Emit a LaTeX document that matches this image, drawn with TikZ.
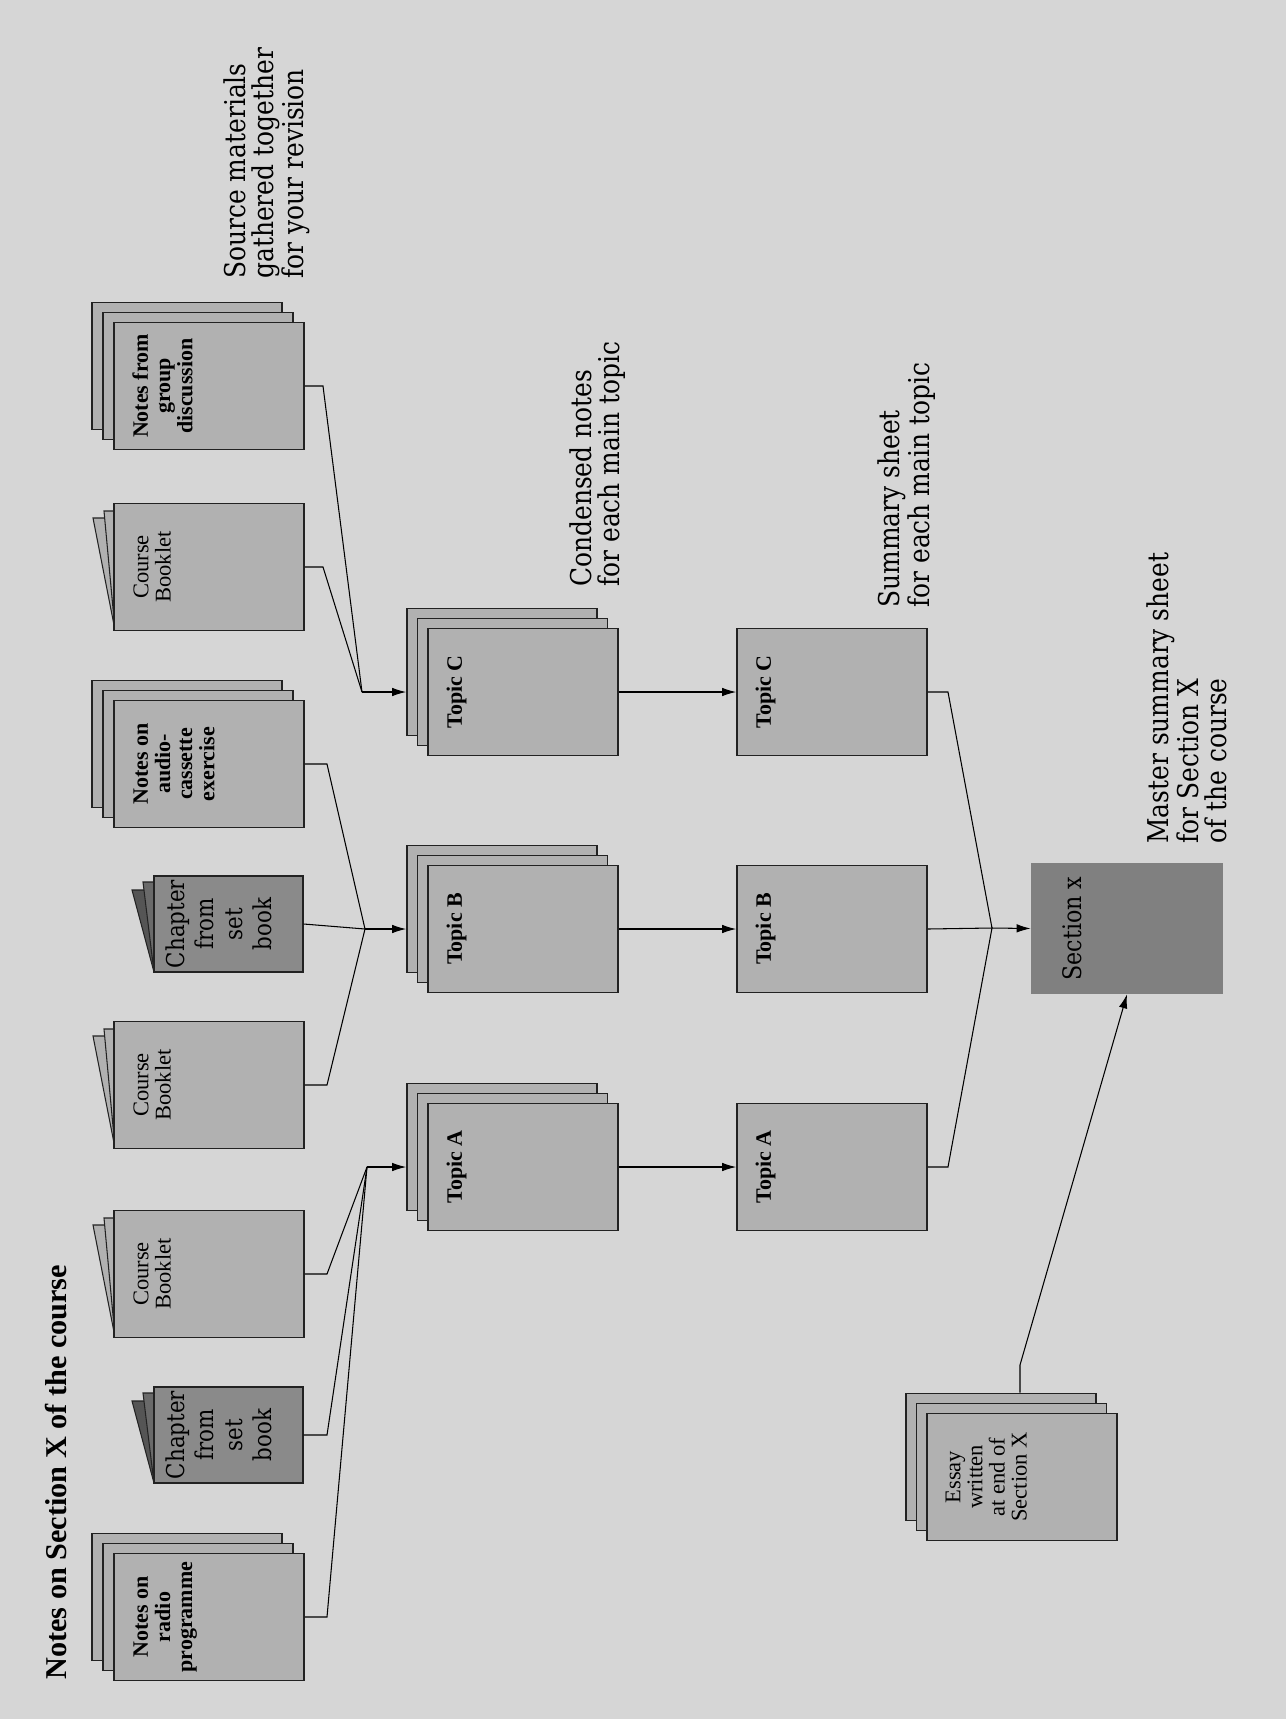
\documentclass[tikz,border=0pt]{standalone}
\usepackage{fontspec}
\setmainfont{DejaVu Serif}
\newfontfamily\timesfont{Liberation Serif}
\newfontfamily\capfont[FakeStretch=0.87]{DejaVu Serif}
\usetikzlibrary{arrows.meta,positioning,calc}
\definecolor{pagegray}{HTML}{D6D6D6}
\definecolor{sheetgray}{HTML}{B1B1B1}
\definecolor{bookgray}{HTML}{8A8A8A}
\definecolor{leafdark}{HTML}{555555}
\definecolor{leafmid}{HTML}{6A6A6A}
\definecolor{secgray}{HTML}{808080}
\definecolor{inkgray}{HTML}{222222}

\begin{document}
\begin{tikzpicture}[x=0.2mm,y=-0.2mm,>={Latex[length=2.8mm,width=1.7mm]},
  sheet/.style={draw=inkgray,line width=0.95pt,fill=sheetgray,minimum width=38mm,minimum height=25.4mm,inner sep=0pt},
  book/.style={draw=inkgray,line width=0.8pt,fill=bookgray,minimum width=29.8mm,minimum height=19.2mm,inner sep=0pt},
  leaf/.style={draw=inkgray,line width=0.6pt,fill=#1},
  lab/.style={rotate=90,align=center,inner sep=0pt,font=\timesfont\fontsize{12.8}{12.6}\selectfont},
  blab/.style={lab,font=\timesfont\bfseries\fontsize{12.5}{12.6}\selectfont},
  clab/.style={lab,font=\capfont\fontsize{14}{16.5}\selectfont},
  capt/.style={rotate=90,align=left,inner sep=0pt,font=\capfont\fontsize{16.3}{16}\selectfont},
  link/.style={line width=0.6pt,draw=black}]

\useasboundingbox (0,0) rectangle (1286,1719);
\fill[pagegray] (0,0) rectangle (1286,1719);

% ---- title ----
\node[rotate=90,inner sep=0pt,anchor=north west,font=\timesfont\bfseries\fontsize{17.2}{20}\selectfont] (title) at (45,1680) {Notes on Section X of the course};

% ---- source materials: note stacks ----
\foreach \nm/\cy in {radio/1617,audio/764,group/386}{
  \foreach \k in {2,1}
    \node[sheet] (\nm-\k) at (209-11*\k,\cy-10*\k) {};
  \node[sheet] (\nm) at (209,\cy) {};
}
% course booklets (fanned pages behind)
\foreach \nm/\cy in {bookA/1274,bookB/1085,bookC/567}{
  \foreach \d/\e in {22/14,11/7}
    \draw[leaf=sheetgray] (115,\cy+63) -- (115-\d,\cy-63+\e) -- (303-\d,\cy-63+\e) -- (303,\cy+63) -- cycle;
  \node[sheet] (\nm) at (209,\cy) {};
}
% chapters from the set book
\foreach \nm/\cy in {chapA/1435,chapB/924}{
  \foreach \d/\e/\c in {22/14/leafdark,11/6/leafmid}
    \draw[leaf=\c] (154,\cy+48) -- (154-\d,\cy-48+\e) -- (303-\d,\cy-48+\e) -- (303,\cy+48) -- cycle;
  \node[book] (\nm) at (228.5,\cy) {};
}

\node[blab,anchor=north] (radio-t) at ($(radio.west)+(20,0)$) {Notes on\\radio\\programme};
\node[blab,anchor=north] (audio-t) at ($(audio.west)+(20,0)$) {Notes on\\audio-\\cassette\\exercise};
\node[blab,anchor=north] (group-t) at ($(group.west)+(19,0)$) {Notes from\\group\\discussion};
\foreach \nm in {bookA,bookB,bookC}
  \node[lab,anchor=north] (\nm-t) at ($(\nm.west)+(20,0)$) {Course\\Booklet};
\foreach \nm in {chapA,chapB}
  \node[clab,anchor=north] (\nm-t) at ($(\nm.west)+(12,0)$) {Chapter\\from\\set\\book};

\node[capt,anchor=north west] (cap-src) at (223,279) {Source materials\\gathered together\\for your revision};

% ---- condensed notes ----
\foreach \nm/\cy/\t in {topC/692/C,topB/929/B,topA/1167/A}{
  \foreach \k in {2,1}
    \node[sheet] (\nm-\k) at (523-10.5*\k,\cy-10*\k) {};
  \node[sheet] (\nm) at (523,\cy) {};
  \node[blab,anchor=north] (\nm-t) at ($(\nm.west)+(19,0)$) {Topic \t};
}
\node[capt,anchor=north west] (cap-top) at (569,587) {Condensed notes\\for each main topic};

% ---- summary sheets ----
\foreach \nm/\cy/\t in {sumC/692/C,sumB/929/B,sumA/1167/A}{
  \node[sheet] (\nm) at (832,\cy) {};
  \node[blab,anchor=north] (\nm-t) at ($(\nm.west)+(19,0)$) {Topic \t};
}
\node[capt,anchor=north west] (cap-sum) at (877,608) {Summary sheet\\for each main topic};

% ---- master summary ----
\node[fill=secgray,minimum width=38.4mm,minimum height=26.2mm,inner sep=0pt] (section) at (1127,928.5) {};
\node[clab,font=\capfont\fontsize{14.5}{16.5}\selectfont,anchor=north] (section-t) at ($(section.west)+(32,0)$) {Section x};
\node[capt,anchor=north west] (cap-mst) at (1146,844) {Master summary sheet\\for Section X\\of the course};

% ---- essay ----
\foreach \k in {2,1}
  \node[sheet] (essay-\k) at (1022-10.5*\k,1477-10*\k) {};
\node[sheet] (essay) at (1022,1477) {};
\node[lab,anchor=north] (essay-t) at ($(essay.west)+(19,0)$) {Essay\\written\\at end of\\Section X};

% ---- connectors ----
\coordinate (jA) at (367,1167);
\coordinate (jB) at (365,929);
\coordinate (jC) at (362,692);
\coordinate (jS) at (992,928);
\coordinate (bendAB) at (327,0);
\coordinate (bendC) at (323,0);
\coordinate (bendS) at (948,0);
\coordinate (eBend) at (1020,1365);

\foreach \src in {radio,chapA,bookA}
  \draw[link] (\src.east) -- (\src.east -| bendAB) -- (jA);
\foreach \src in {bookB,audio}
  \draw[link] (\src.east) -- (\src.east -| bendAB) -- (jB);
\draw[link] (chapB.east) -- (jB);
\foreach \src in {bookC,group}
  \draw[link] (\src.east) -- (\src.east -| bendC) -- (jC);

\draw[link,->] (jA) -- (jA -| topA-2.west);
\draw[link,->] (jB) -- (jB -| topB-2.west);
\draw[link,->] (jC) -- (jC -| topC-2.west);

\foreach \t in {A,B,C}
  \draw[link,->] (top\t.east) -- (sum\t.west);

\foreach \src in {sumA,sumC}
  \draw[link] (\src.east) -- (\src.east -| bendS) -- (jS);
\draw[link] (sumB.east) -- (jS);
\draw[link,->] (jS) -- (section.west);

\draw[link,->] (essay-2.north -| eBend) -- (eBend) -- (section.south);

\end{tikzpicture}
\end{document}
